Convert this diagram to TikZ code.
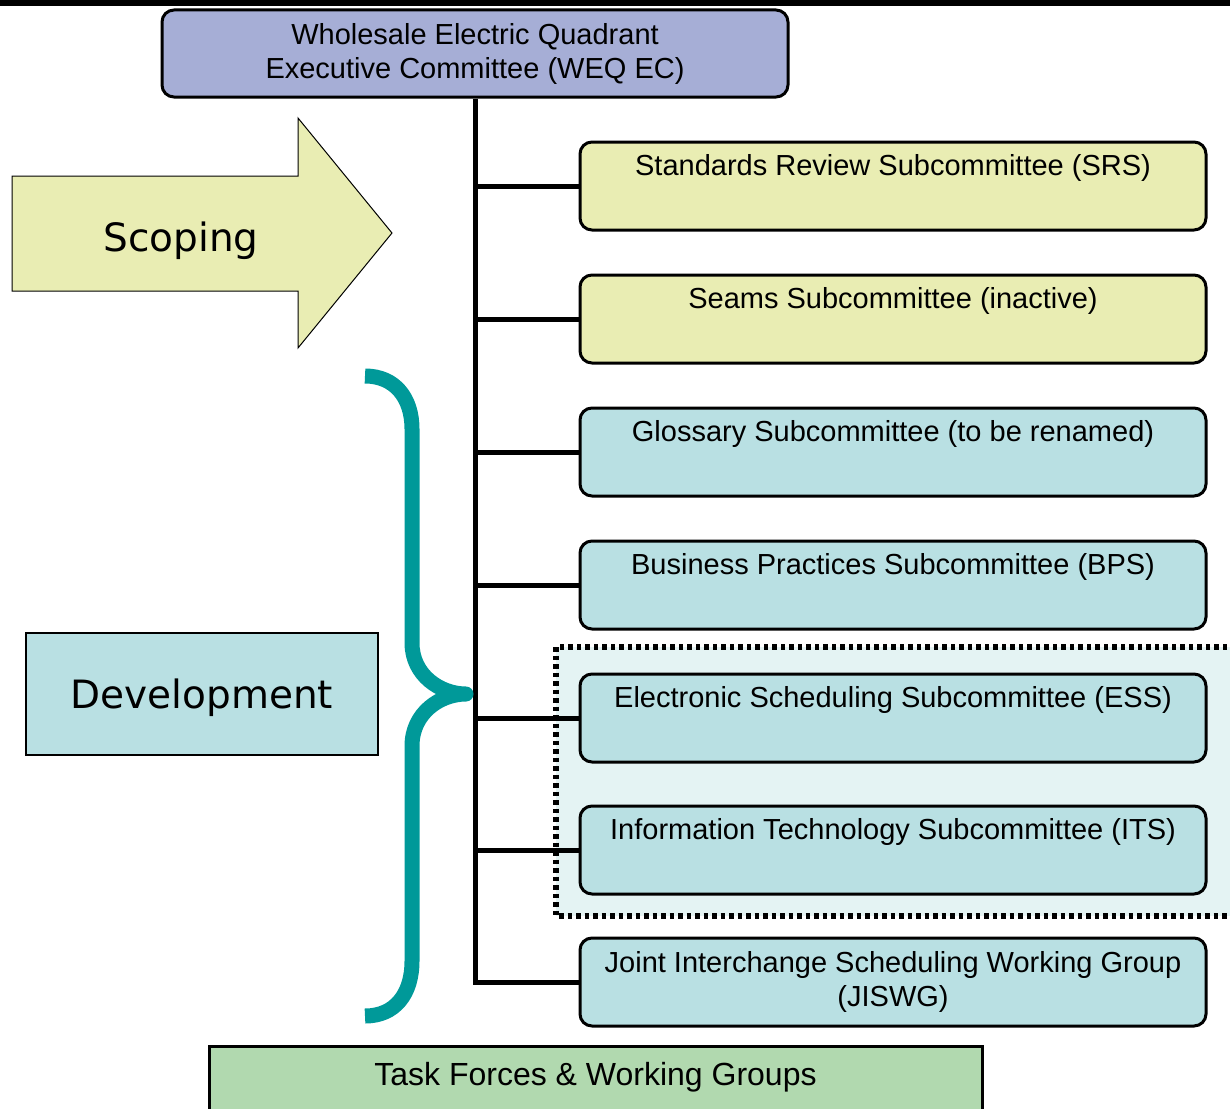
\documentclass[tikz,border=0pt]{standalone}
\usepackage{fontspec}
\setmainfont{Liberation Sans}
\newfontfamily\stagefont{DejaVu Sans}
\usetikzlibrary{positioning,calc}

\definecolor{weqblue}{RGB}{166,174,214}
\definecolor{scopeyellow}{RGB}{233,237,179}
\definecolor{devblue}{RGB}{185,224,227}
\definecolor{taskgreen}{RGB}{177,217,175}
\definecolor{braceteal}{RGB}{0,153,153}
\definecolor{gridblue}{RGB}{228,243,243}

\tikzset{
  subbox/.style={draw, line width=3pt, rounded corners=12pt, minimum width=626pt, minimum height=88pt, align=center, font=\fontsize{29}{34}\selectfont},
  toptext/.style={text height=22pt, text depth=44pt},
  stagebox/.style={font=\stagefont\fontsize{39}{48}\selectfont},
  trunk/.style={line width=5pt}
}

\begin{document}
\begin{tikzpicture}[x=1pt, y=-1pt]
    \useasboundingbox (0,0) rectangle (1230,1108);

    % Rule across the top
    \draw[line width=7pt] (0,3) -- (1230,3);

    % Scheduling group (dotted area)
    \draw[fill=gridblue, line width=5.5pt, dash pattern=on 4.5pt off 4pt] (556,647) rectangle (1260,916);

    % Executive committee
    \node[draw, line width=3pt, rounded corners=12pt, fill=weqblue, minimum width=626pt, minimum height=87pt, align=center, font=\fontsize{29}{34}\selectfont] (weq) at (475,53.5) {Wholesale Electric Quadrant\\Executive Committee (WEQ EC)};

    % Subcommittees
    \node[subbox, toptext, fill=scopeyellow] (srs) at (893,186) {Standards Review Subcommittee (SRS)};
    \node[subbox, toptext, fill=scopeyellow] (seams) at (893,319) {Seams Subcommittee (inactive)};
    \node[subbox, toptext, fill=devblue] (gloss) at (893,452) {Glossary Subcommittee (to be renamed)};
    \node[subbox, toptext, fill=devblue] (bps) at (893,585) {Business Practices Subcommittee (BPS)};
    \node[subbox, toptext, fill=devblue] (ess) at (893,718) {Electronic Scheduling Subcommittee (ESS)};
    \node[subbox, toptext, fill=devblue] (its) at (893,850) {Information Technology Subcommittee (ITS)};
    \node[subbox, fill=devblue] (jiswg) at (893,982) {Joint Interchange Scheduling Working Group\\(JISWG)};

    % Trunk and branches
    \draw[trunk] (weq.south) |- (jiswg.west);
    \foreach \sub in {srs,seams,gloss,bps,ess,its}
        \draw[trunk] (weq.south |- \sub.west) -- (\sub.west);

    % Scoping arrow
    \draw[fill=scopeyellow, line width=1pt] (12,176) -- (298,176) -- (298,118) -- (392,233) -- (298,348) -- (298,291) -- (12,291) -- cycle;
    \node[stagebox] (scoping) at (181,241) {Scoping};

    % Development box and brace
    \node[stagebox, draw, line width=1.2pt, fill=devblue, minimum width=352pt, minimum height=122pt, text height=38pt, text depth=9pt] (dev) at (202,694) {Development};
    \draw[braceteal, line width=15pt, line join=round] (365,376) .. controls (395,376) and (412,398) .. (412,429) -- (412,643)
        .. controls (412,675) and (440,694) .. (466,694)
        .. controls (440,694) and (412,713) .. (412,746) -- (412,961)
        .. controls (412,994) and (395,1016) .. (365,1016);

    % Task forces
    \node[draw, line width=3pt, fill=taskgreen, minimum width=773pt, minimum height=68pt, text height=23pt, text depth=13pt, font=\fontsize{32}{36}\selectfont] (task) at (595.5,1080) {Task Forces \& Working Groups};
\end{tikzpicture}
\end{document}
